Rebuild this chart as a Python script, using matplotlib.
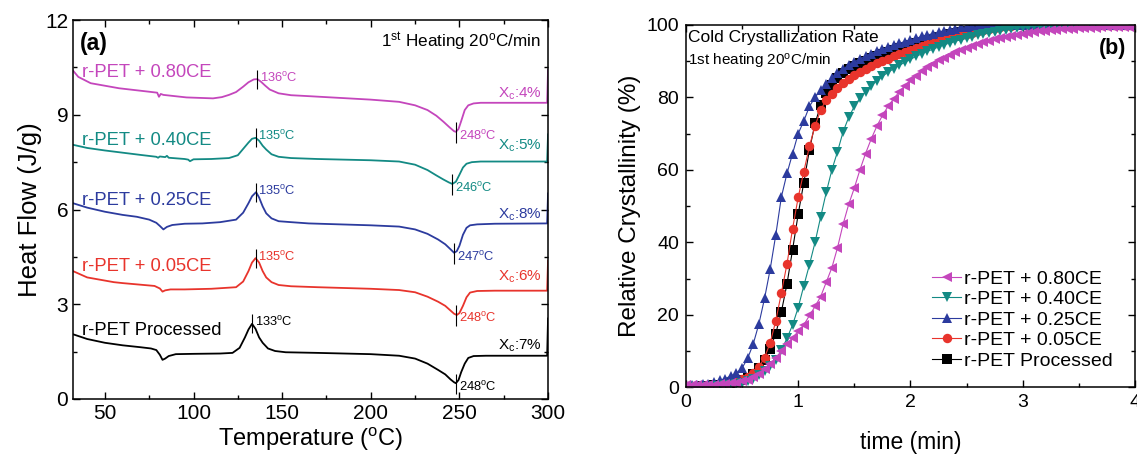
import numpy as np
import matplotlib
matplotlib.use("Agg")
import matplotlib.pyplot as plt
from matplotlib.ticker import MultipleLocator

plt.rcParams['font.family'] = ['Liberation Sans', 'DejaVu Sans']
plt.rcParams['mathtext.fontset'] = 'custom'
plt.rcParams['mathtext.rm'] = 'Liberation Sans'
plt.rcParams['mathtext.it'] = 'Liberation Sans:italic'

samples = ['r-PET Processed', 'r-PET + 0.05CE', 'r-PET + 0.25CE', 'r-PET + 0.40CE', 'r-PET + 0.80CE']
colors = ['#000000', '#e8342c', '#2c3b9e', '#138a84', '#c446bc']

# ---- DSC first heating curves (T in degC, heat flow in J/g, curves stacked) ----
T_proc = [32, 40, 50, 60, 70, 76, 79, 81, 82.5, 84, 86, 90, 100, 115, 122, 126, 129, 131, 133, 135, 137, 139, 142,
          146, 152, 170, 200, 216, 225, 232, 238, 242, 245, 247, 248, 249.5, 251, 253, 255, 258, 265, 299.5, 300]
hf_proc = [2.05, 1.90, 1.78, 1.70, 1.64, 1.60, 1.55, 1.40, 1.24, 1.28, 1.36, 1.42, 1.43, 1.44, 1.46, 1.62, 1.95,
           2.20, 2.38, 2.22, 1.95, 1.78, 1.60, 1.52, 1.48, 1.46, 1.42, 1.37, 1.28, 1.12, 0.92, 0.78, 0.62, 0.53,
           0.50, 0.60, 0.85, 1.12, 1.30, 1.36, 1.37, 1.37, 2.55]

T_005 = [32, 40, 50, 55, 60, 70, 78, 81, 82.5, 84, 87, 95, 110, 124, 128, 131, 133, 135, 137, 139, 141, 144, 148,
         155, 170, 200, 216, 225, 232, 238, 242, 245, 247, 248.5, 250, 252, 254, 256, 260, 270, 299.5, 300]
hf_005 = [4.05, 3.85, 3.75, 3.70, 3.67, 3.62, 3.58, 3.50, 3.40, 3.44, 3.47, 3.47, 3.49, 3.54, 3.72, 4.05, 4.32,
          4.46, 4.32, 4.05, 3.85, 3.70, 3.61, 3.57, 3.54, 3.49, 3.45, 3.38, 3.24, 3.08, 2.95, 2.80, 2.70, 2.66,
          2.72, 2.95, 3.22, 3.37, 3.42, 3.43, 3.43, 4.38]

T_025 = [32, 40, 50, 60, 68, 75, 79, 81, 83, 85, 88, 95, 105, 115, 124, 128, 131, 133, 135.3, 137, 139, 141, 144,
         148, 155, 165, 200, 216, 225, 232, 238, 242, 245, 247, 248.5, 250, 252, 254, 256, 260, 270, 299.5, 300]
hf_025 = [6.20, 6.06, 5.93, 5.83, 5.77, 5.68, 5.58, 5.48, 5.37, 5.45, 5.51, 5.55, 5.56, 5.60, 5.68, 5.90, 6.20,
          6.42, 6.55, 6.38, 6.10, 5.88, 5.72, 5.63, 5.60, 5.56, 5.50, 5.46, 5.37, 5.23, 5.05, 4.90, 4.74, 4.63,
          4.68, 4.85, 5.20, 5.42, 5.50, 5.53, 5.55, 5.56, 6.51]

T_040 = [32, 40, 50, 60, 70, 79, 80, 81, 84, 85, 86, 95, 97, 98, 100, 110, 120, 125, 128, 131, 133, 135, 137, 139,
         141, 144, 148, 155, 170, 200, 216, 225, 232, 237, 241, 244, 246, 248, 250, 252, 254, 257, 262, 280,
         299.5, 300]
hf_040 = [8.05, 7.95, 7.87, 7.80, 7.73, 7.67, 7.64, 7.68, 7.66, 7.70, 7.64, 7.60, 7.58, 7.53, 7.59, 7.60, 7.63,
          7.72, 7.92, 8.12, 8.24, 8.27, 8.18, 8.02, 7.90, 7.75, 7.67, 7.63, 7.60, 7.56, 7.52, 7.42, 7.25, 7.08,
          6.95, 6.86, 6.81, 6.88, 7.10, 7.33, 7.45, 7.50, 7.52, 7.52, 7.52, 8.38]

T_080 = [32, 35, 42, 58, 75, 79.5, 80.5, 81.5, 83, 96, 111, 116, 120, 124, 128, 131, 134, 136, 138, 140.5, 143,
         148, 155, 165, 200, 216, 225, 232, 237, 241, 244.5, 247, 248, 249.5, 251, 253, 255, 258, 262, 299.5, 300]
hf_080 = [10.40, 10.20, 10.00, 9.84, 9.73, 9.70, 9.57, 9.66, 9.63, 9.55, 9.52, 9.56, 9.63, 9.72, 9.89, 10.03,
          10.12, 10.13, 10.05, 9.92, 9.80, 9.68, 9.62, 9.59, 9.48, 9.41, 9.30, 9.15, 8.97, 8.78, 8.60, 8.48, 8.46,
          8.55, 8.80, 9.15, 9.30, 9.36, 9.38, 9.38, 10.42]

cold_cryst_T = [133, 135, 135, 135, 136]
melt_T = [248, 248, 247, 246, 248]
xc_pct = [7, 6, 8, 5, 4]

# ---- relative crystallinity vs time ----
time_min = np.linspace(0, 4, 81)
rc_proc = [0.2, 0.2, 0.2, 0.3, 0.4, 0.5, 0.7, 0.9, 1.2, 1.5, 1.9, 2.5, 3.6, 5.2, 7.4, 10.6, 14.8, 20.8, 28.5,
           38.0, 47.8, 56.5, 65.5, 72.8, 77.8, 81.2, 83.5, 85.3, 86.6, 87.7, 88.6, 89.4, 90.1, 90.8, 91.4, 92.0,
           92.5, 93.0, 93.5, 94.0, 94.5, 94.9, 95.4, 95.8, 96.2, 96.6, 97.0, 97.4, 97.8, 98.1, 98.4, 98.7, 99.0,
           99.3, 99.5, 99.7, 99.8, 99.9, 100, 100, 100, 100, 100, 100, 100, 100, 100, 100, 100, 100, 100, 100,
           100, 100, 100, 100, 100, 100, 100, 100, 100]
rc_005 = [0.3, 0.3, 0.3, 0.4, 0.5, 0.7, 0.9, 1.2, 1.5, 1.8, 2.2, 2.7, 4.0, 5.6, 8.2, 12.2, 18.3, 26.0, 34.0, 43.8,
          52.4, 59.5, 66.5, 72.1, 76.5, 79.4, 81.0, 82.6, 84.0, 85.2, 86.2, 87.1, 87.9, 88.7, 89.4, 90.1, 90.7,
          91.3, 91.9, 92.5, 93.0, 93.6, 94.1, 94.6, 95.1, 95.6, 96.0, 96.4, 96.8, 97.2, 97.6, 97.9, 98.2, 98.5,
          98.8, 99.1, 99.4, 99.6, 99.8, 99.9, 100, 100, 100, 100, 100, 100, 100, 100, 100, 100, 100, 100, 100,
          100, 100, 100, 100, 100, 100, 100, 100]
rc_025 = [0.5, 0.5, 0.6, 0.8, 1.0, 1.4, 1.9, 2.4, 3.1, 3.9, 5.3, 8.0, 12.0, 17.5, 24.5, 32.5, 42.0, 52.5, 59.0,
          64.5, 70.0, 73.5, 77.5, 80.0, 82.0, 83.8, 85.3, 86.6, 87.8, 88.8, 89.8, 90.6, 91.4, 92.1, 92.7, 93.3,
          93.9, 94.4, 94.9, 95.4, 95.9, 96.3, 96.8, 97.2, 97.6, 98.0, 98.4, 98.7, 99.0, 99.3, 99.5, 99.7, 99.8,
          99.9, 100, 100, 100, 100, 100, 100, 100, 100, 100, 100, 100, 100, 100, 100, 100, 100, 100, 100, 100,
          100, 100, 100, 100, 100, 100, 100, 100]
rc_040 = [0.2, 0.2, 0.2, 0.2, 0.2, 0.3, 0.4, 0.5, 0.6, 0.8, 1.2, 1.7, 2.4, 3.3, 4.5, 5.9, 7.6, 10.2, 13.5, 17.2,
          22.0, 28.0, 33.8, 40.0, 47.0, 53.8, 60.0, 65.0, 70.5, 74.5, 77.5, 79.8, 81.6, 83.2, 84.6, 85.8, 86.9,
          87.9, 88.8, 89.7, 90.5, 91.3, 92.0, 92.7, 93.3, 93.9, 94.5, 95.0, 95.5, 95.9, 96.3, 96.7, 97.1, 97.4,
          97.8, 98.1, 98.4, 98.7, 98.9, 99.1, 99.3, 99.5, 99.6, 99.7, 99.8, 99.9, 100, 100, 100, 100, 100, 100,
          100, 100, 100, 100, 100, 100, 100, 100, 100]
rc_080 = [0.6, 0.6, 0.6, 0.6, 0.6, 0.7, 0.8, 0.9, 1.1, 1.3, 1.7, 2.1, 2.7, 3.6, 4.9, 6.3, 8.0, 9.9, 11.8, 13.7,
          15.4, 17.2, 19.8, 22.3, 25.0, 29.0, 33.0, 38.5, 45.0, 50.5, 55.0, 60.0, 64.5, 68.5, 72.0, 75.0, 77.5,
          79.6, 81.5, 83.2, 84.7, 86.0, 87.2, 88.3, 89.3, 90.2, 91.0, 91.8, 92.5, 93.1, 93.7, 94.2, 94.7, 95.2,
          95.6, 96.0, 96.4, 96.7, 97.0, 97.3, 97.6, 97.8, 98.0, 98.2, 98.4, 98.5, 98.7, 98.8, 98.9, 99.0, 99.1,
          99.1, 99.2, 99.2, 99.3, 99.3, 99.4, 99.4, 99.5, 99.5, 99.6]

dsc_T = [T_proc, T_005, T_025, T_040, T_080]
dsc_hf = [hf_proc, hf_005, hf_025, hf_040, hf_080]
rc_all = [rc_proc, rc_005, rc_025, rc_040, rc_080]
markers = ['s', 'o', '^', 'v', '<']

deg = r'$^{\mathrm{o}}$C'

fig = plt.figure(figsize=(11.37, 4.61), dpi=100)
ax1 = fig.add_axes([0.0642, 0.1345, 0.4178, 0.822])
ax2 = fig.add_axes([0.6033, 0.16, 0.3949, 0.786])

# (a) DSC curves
label_y = [2.18, 4.21, 6.3, 8.2, 10.35]
for i in range(5):
    T = np.array(dsc_T[i])
    hf = np.array(dsc_hf[i])
    c = colors[i]
    ax1.plot(T, hf, color=c, lw=1.3)
    ax1.text(37, label_y[i], samples[i], color=c, fontsize=13.2, va='center')

    yp = np.interp(cold_cryst_T[i], T, hf)
    ax1.vlines(cold_cryst_T[i], yp - 0.3, yp + 0.3, color='k', lw=0.8)
    ax1.text(cold_cryst_T[i] + 1.5, yp + 0.05, f'{cold_cryst_T[i]}' + deg, color=c, fontsize=9.3, va='center')

    ym = np.interp(melt_T[i], T, hf)
    ax1.vlines(melt_T[i], ym - 0.35, ym + 0.3, color='k', lw=0.8)
    ax1.text(melt_T[i] + 1.5, ym - 0.12, f'{melt_T[i]}' + deg, color=c, fontsize=9.3, va='center')

    ax1.text(296.5, ym + 1.2, r'X$_{\mathrm{c}}$:' + f'{xc_pct[i]}%', color=c, fontsize=11,
             ha='right', va='center')

ax1.text(36, 11.25, '(a)', fontsize=16.5, fontweight='bold', va='center')
ax1.text(296, 11.3, r'1$^{\mathrm{st}}$ Heating 20' + deg + '/min', fontsize=12.3, ha='right', va='center')

ax1.set_xlim(32, 300)
ax1.set_ylim(0, 12)
ax1.xaxis.set_major_locator(MultipleLocator(50))
ax1.xaxis.set_minor_locator(MultipleLocator(25))
ax1.yaxis.set_major_locator(MultipleLocator(3))
ax1.yaxis.set_minor_locator(MultipleLocator(1.5))
ax1.set_xlabel('Temperature (' + deg + ')', fontsize=17, labelpad=2)
ax1.set_ylabel('Heat Flow (J/g)', fontsize=18.5, labelpad=2)

# (b) relative crystallinity
for i in range(5):
    ax2.plot(time_min, rc_all[i], color=colors[i], lw=0.8, marker=markers[i], ms=6.8, mew=0,
             label=samples[i])

handles, labels = ax2.get_legend_handles_labels()
ax2.legend(handles[::-1], labels[::-1], loc='lower right', bbox_to_anchor=(0.99, 0.0), frameon=False,
           fontsize=14, handlelength=1.5, labelspacing=0.15, handletextpad=0.15)

ax2.text(0.02, 96.5, 'Cold Crystallization Rate', fontsize=12.5, va='center')
ax2.text(0.02, 89.8, '1st heating 20' + deg + '/min', fontsize=11, va='center')
ax2.text(3.8, 93.5, '(b)', fontsize=15.5, fontweight='bold', ha='center', va='center')

ax2.set_xlim(0, 4)
ax2.set_ylim(0, 100)
ax2.xaxis.set_major_locator(MultipleLocator(1))
ax2.xaxis.set_minor_locator(MultipleLocator(0.5))
ax2.yaxis.set_major_locator(MultipleLocator(20))
ax2.yaxis.set_minor_locator(MultipleLocator(10))
ax2.set_xlabel('time (min)', fontsize=16.5, labelpad=14)
ax2.set_ylabel('Relative Crystallinity (%)', fontsize=17.5, labelpad=4)

for ax, fs, pd in ((ax1, 15, 3.5), (ax2, 14, 5)):
    ax.tick_params(which='both', direction='in', top=True, right=True, labelsize=fs, pad=pd)
    ax.tick_params(which='major', length=5, width=1)
    ax.tick_params(which='minor', length=3, width=1)
    for s in ax.spines.values():
        s.set_linewidth(1.1)

fig.savefig('out.png', dpi=100)
